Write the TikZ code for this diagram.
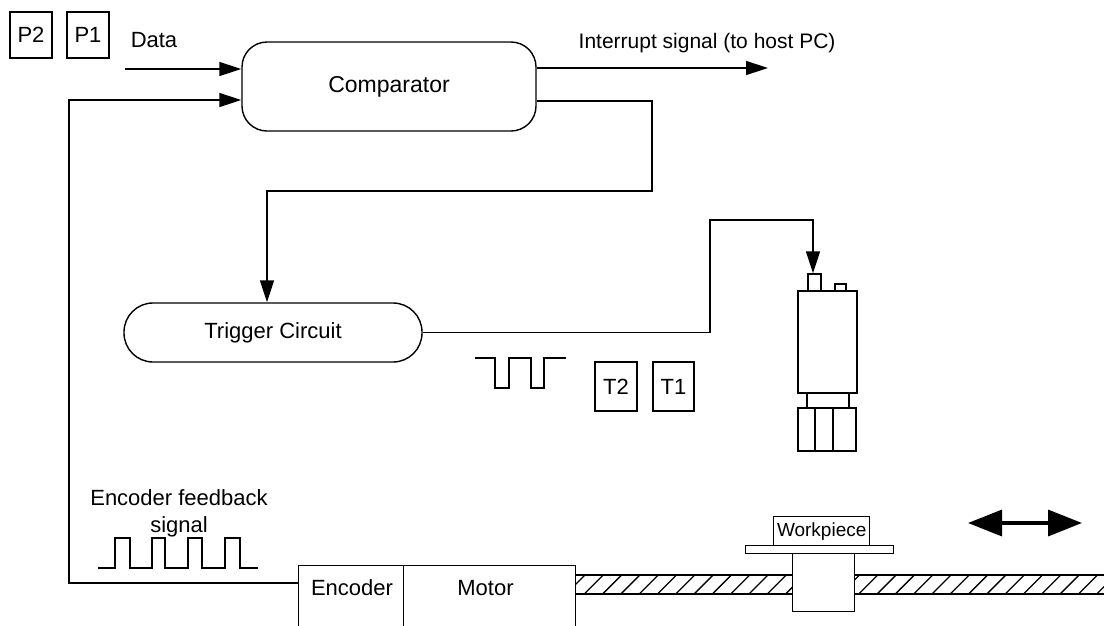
\documentclass[tikz,border=0pt]{standalone}
\usepackage{fontspec}
\setmainfont{Liberation Sans}
\usetikzlibrary{arrows.meta}
\begin{document}
\begin{tikzpicture}[x=1pt,y=-1pt, line width=1.4pt,
  every node/.style={font=\fontsize{22}{26}\selectfont, inner sep=0pt},
  arr/.style={-{Triangle[length=22pt,width=14pt]}},
  tag/.style={draw, minimum width=42pt, minimum height=46pt},
  roundbox/.style={draw, rounded corners=25pt},
  pillbox/.style={draw, rounded corners=29pt},
  plainbox/.style={draw, anchor=north west},
  wave/.style={line width=1.3pt},
  rodline/.style={line width=1.6pt},
  hatch/.style={line width=1.3pt},
  bigarr/.style={line width=3.5pt, {Triangle[length=34pt,width=26pt]}-{Triangle[length=34pt,width=26pt]}}]
\useasboundingbox (0,0) rectangle (1104,625);
\clip (0,0) rectangle (1104,625);

% labels in small boxes
\node[tag] (p2) at (31,35) {P2};
\node[tag] (p1) at (88,35) {P1};
\node[tag, minimum height=49pt] (t2) at (616,386.5) {T2};
\node[tag, minimum width=41pt, minimum height=49pt] (t1) at (673.5,386.5) {T1};

% main blocks
\node[roundbox, minimum width=294pt, minimum height=89pt, font=\fontsize{23}{27}\selectfont] (comp) at (389,86.5) {Comparator};
\node[pillbox, minimum width=298pt, minimum height=59pt] (trig) at (273,332.5) {Trigger Circuit};

% free texts
\node[anchor=base] (datalbl) at (154,47) {Data};
\node[anchor=base west, font=\fontsize{21}{25}\selectfont] (intlbl) at (578,48) {Interrupt signal (to host PC)};
\node[anchor=base] (fblbl1) at (179,505) {Encoder feedback};
\node[anchor=base] (fblbl2) at (179,532) {signal};

% camera
\node[draw, minimum width=13pt, minimum height=17pt] (camtop) at (814.5,282.5) {};
\draw (835,284) rectangle (846,291);
\draw (798,291) rectangle (857,393);
\draw (807,393) rectangle (849,408);
\draw (798,408) rectangle (856,451);
\draw (815,408) -- (815,451) (833,408) -- (833,451);

% encoder and motor
\node[plainbox, minimum width=105pt, minimum height=80pt] (enc) at (298,565) {};
\node[plainbox, minimum width=172pt, minimum height=80pt] (mot) at (403,565) {};
\node[anchor=base] (enclbl) at (352,595) {Encoder};
\node[anchor=base] (motlbl) at (485.5,595) {Motor};

% lead screw
\begin{scope}
  \clip (575,575) rectangle (792,594) (854,575) rectangle (1104,594);
  \foreach \i in {0,...,30} \draw[hatch] ({566+18.3*\i},594) -- ++(19,-19);
\end{scope}
\draw[rodline] (575,575) -- (792,575) (575,594) -- (792,594)
               (854,575) -- (1104,575) (854,594) -- (1104,594);

% workpiece on carriage
\node[plainbox, fill=white, minimum width=62pt, minimum height=58pt] (carriage) at (792,553) {};
\node[plainbox, fill=white, minimum width=148pt, minimum height=8pt] (plate) at (745,545) {};
\node[plainbox, minimum width=96pt, minimum height=29pt, font=\fontsize{19}{21}\selectfont] (wp) at (773,516) {Workpiece};

% motion arrow
\coordinate (ml) at (968,523);
\coordinate (mr) at (1082,523);
\draw[bigarr] (ml) -- (mr);

% pulse trains
\draw[wave] (475,358) -- (495,358) -- (495,388) -- (509,388) -- (509,358) -- (531,358)
  -- (531,388) -- (544,388) -- (544,358) -- (566,358);
\draw[wave] (98,568) -- (115,568) -- (115,538) -- (130,538) -- (130,568) -- (152,568)
  -- (152,538) -- (165,538) -- (165,568) -- (188,568) -- (188,538) -- (202,538)
  -- (202,568) -- (225,568) -- (225,538) -- (240,538) -- (240,568) -- (258,568);

% connectors
\coordinate (datain) at (125,69);
\coordinate (intout) at (768,68);
\coordinate (ct1) at (652,101);
\coordinate (ct2) at (267,191);
\coordinate (tc1) at (710,332.5);
\coordinate (tc2) at (813,220);
\coordinate (fb) at (69,583);
\coordinate (fbin) at (69,100);

\draw[arr] (datain) -- (datain -| comp.west);
\draw[arr] (comp.east |- intout) -- (intout);
\draw[arr] (comp.east |- ct1) -- (ct1) |- (ct2) -- (ct2 |- trig.north);
\draw[arr] (trig.east) -- (tc1) |- (tc2) -- (tc2 |- camtop.north);
\draw[arr] (enc.west |- fb) -- (fb) -- (fbin) -- (fbin -| comp.west);
\end{tikzpicture}
\end{document}
